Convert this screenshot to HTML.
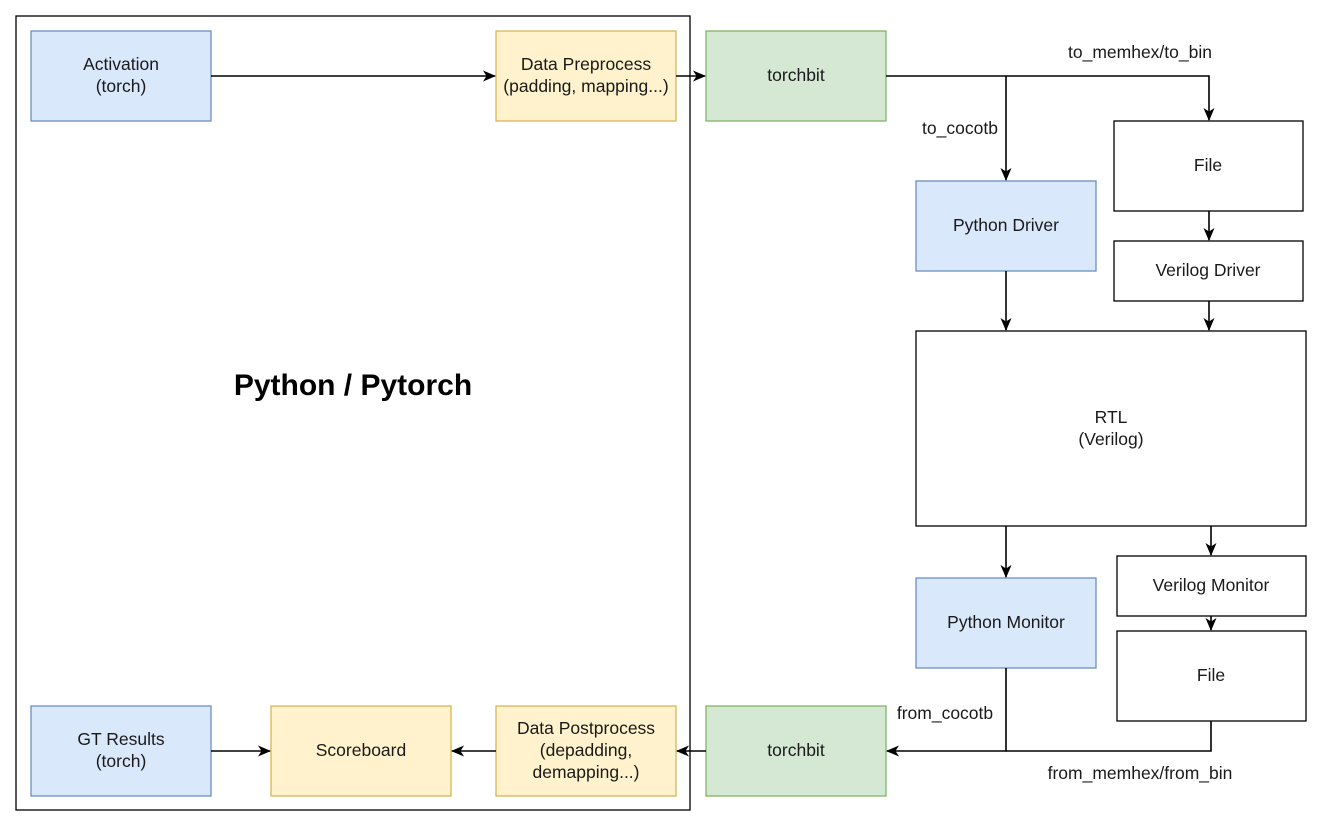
<!DOCTYPE html>
<html><head><style>body{margin:0;background:#fff}svg{display:block}text{font-family:"Liberation Sans",Arial,sans-serif;font-size:17.5px;fill:#1a1a1a}</style></head>
<body>
<svg width="1322" height="828" viewBox="0 0 1322 828" xmlns="http://www.w3.org/2000/svg">
<defs><marker id="a" markerWidth="14" markerHeight="14" refX="12" refY="7" orient="auto" markerUnits="userSpaceOnUse"><path d="M0,1.5 L13,7 L0,12.5 L3.5,7 Z" fill="#000"/></marker></defs>
<rect x="16" y="16" width="674" height="794" fill="none" stroke="#000" stroke-width="1.3"/>
<g stroke-width="1.3">
<rect x="31" y="31" width="180" height="90" fill="#dae8fc" stroke="#6c8ebf"/>
<rect x="496" y="31" width="180" height="90" fill="#fff2cc" stroke="#d6b656"/>
<rect x="706" y="31" width="180" height="90" fill="#d5e8d4" stroke="#82b366"/>
<rect x="1114" y="121" width="189" height="90" fill="#fff" stroke="#000"/>
<rect x="916" y="181" width="180" height="90" fill="#dae8fc" stroke="#6c8ebf"/>
<rect x="1114" y="241" width="189" height="60" fill="#fff" stroke="#000"/>
<rect x="916" y="331" width="390" height="195" fill="#fff" stroke="#000"/>
<rect x="916" y="578" width="180" height="90" fill="#dae8fc" stroke="#6c8ebf"/>
<rect x="1117" y="556" width="189" height="60" fill="#fff" stroke="#000"/>
<rect x="1117" y="631" width="189" height="90" fill="#fff" stroke="#000"/>
<rect x="31" y="706" width="180" height="90" fill="#dae8fc" stroke="#6c8ebf"/>
<rect x="271" y="706" width="180" height="90" fill="#fff2cc" stroke="#d6b656"/>
<rect x="496" y="706" width="180" height="90" fill="#fff2cc" stroke="#d6b656"/>
<rect x="706" y="706" width="180" height="90" fill="#d5e8d4" stroke="#82b366"/>
</g>
<g stroke="#000" stroke-width="1.6" fill="none" marker-end="url(#a)">
<path d="M211,76 H495"/>
<path d="M676,76 H705"/>
<path d="M886,76 H1209 V120"/>
<path d="M1006,76 V180"/>
<path d="M1006,271 V330"/>
<path d="M1209,211 V240"/>
<path d="M1209,301 V330"/>
<path d="M1006,526 V577"/>
<path d="M1211,526 V555"/>
<path d="M1211,616 V630"/>
<path d="M1006,668 V751 H887"/>
<path d="M1211,721 V751 H1006" marker-end="none"/>
<path d="M706,751 H677"/>
<path d="M496,751 H452"/>
<path d="M211,751 H270"/>
</g>
<g text-anchor="middle">
<text x="121" y="70">Activation</text><text x="121" y="92">(torch)</text>
<text x="586" y="70">Data Preprocess</text><text x="586" y="92">(padding, mapping...)</text>
<text x="796" y="81">torchbit</text>
<text x="1208" y="171">File</text>
<text x="1006" y="231">Python Driver</text>
<text x="1208" y="276">Verilog Driver</text>
<text x="1111" y="423">RTL</text><text x="1111" y="445">(Verilog)</text>
<text x="1006" y="628">Python Monitor</text>
<text x="1211" y="591">Verilog Monitor</text>
<text x="1211" y="681">File</text>
<text x="121" y="745">GT Results</text><text x="121" y="767">(torch)</text>
<text x="361" y="756">Scoreboard</text>
<text x="586" y="734">Data Postprocess</text><text x="586" y="756">(depadding,</text><text x="586" y="778">demapping...)</text>
<text x="796" y="756">torchbit</text>
<text x="1140" y="58">to_memhex/to_bin</text>
<text x="960" y="134">to_cocotb</text>
<text x="945" y="719">from_cocotb</text>
<text x="1140" y="779">from_memhex/from_bin</text>
<text x="353" y="395" style="font-size:30px;font-weight:bold;fill:#000">Python / Pytorch</text>
</g>
</svg>
</body></html>
